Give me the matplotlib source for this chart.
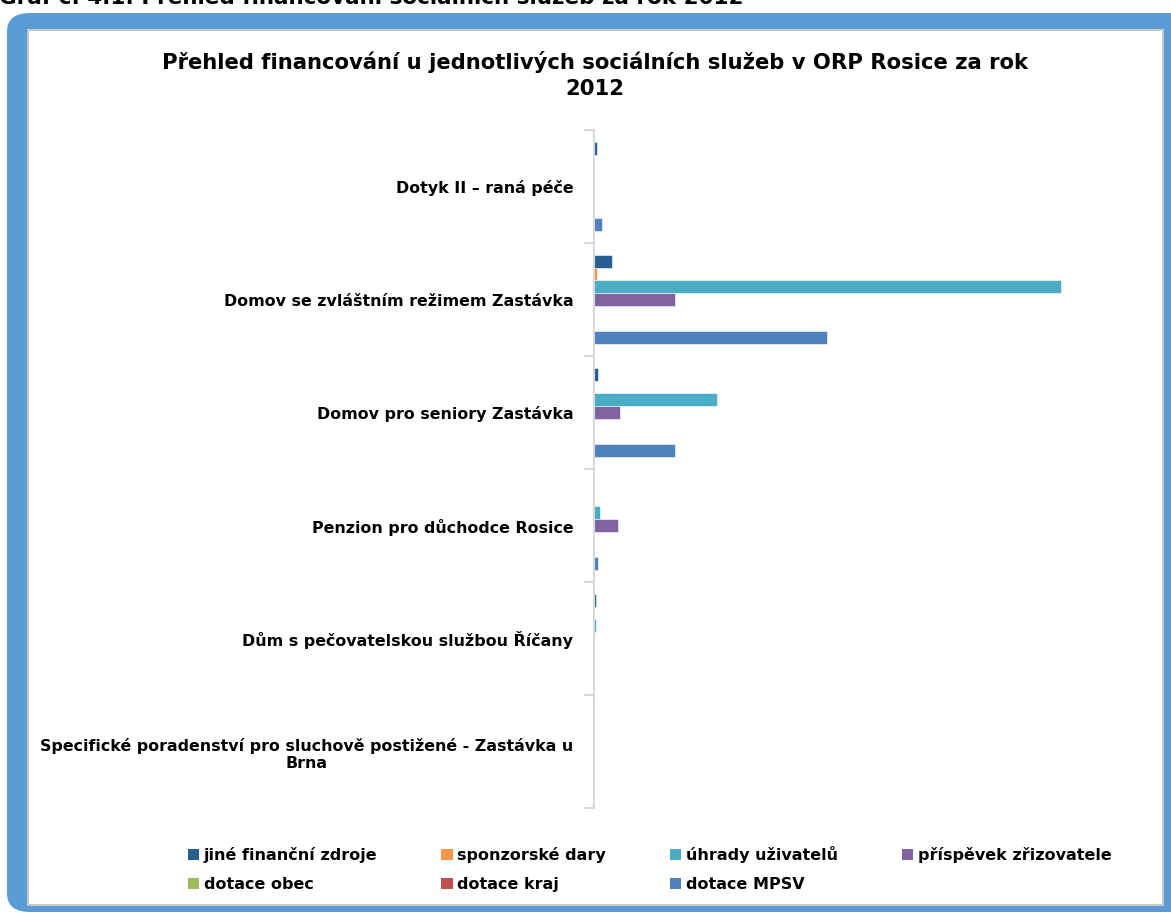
import matplotlib
matplotlib.use('Agg')
import matplotlib.pyplot as plt
from matplotlib.patches import FancyBboxPatch, Rectangle, Patch
import numpy as np

W, H = 1171, 918

categories = [
    'Dotyk II – raná péče',
    'Domov se zvláštním režimem Zastávka',
    'Domov pro seniory Zastávka',
    'Penzion pro důchodce Rosice',
    'Dům s pečovatelskou službou Říčany',
    'Specifické poradenství pro sluchově postižené - Zastávka u\nBrna',
]
series_names = ['jiné finanční zdroje', 'sponzorské dary', 'úhrady uživatelů',
                'příspěvek zřizovatele', 'dotace obec', 'dotace kraj', 'dotace MPSV']
colors = ['#255E91', '#F79646', '#4BACC6', '#8064A2', '#9BBB59', '#C0504D', '#4F81BD']

# values in thousands CZK
jine = [90, 540, 120, 0, 60, 0]
sponzor = [0, 90, 0, 0, 0, 0]
uhrady = [0, 13980, 3690, 170, 60, 0]
prispevek = [0, 2430, 780, 720, 0, 0]
obec = [0, 0, 0, 0, 0, 0]
kraj = [0, 0, 0, 0, 0, 0]
mpsv = [240, 6990, 2430, 120, 0, 0]
values = [jine, sponzor, uhrady, prispevek, obec, kraj, mpsv]


def fx(px):
    return px / W


def fy(py):
    return 1 - py / H


fig = plt.figure(figsize=(W / 100, H / 100), dpi=100)

# blue frame
outer = FancyBboxPatch((fx(7), fy(912)), fx(1200) - fx(7), fy(13) - fy(912),
                       boxstyle='round,pad=0,rounding_size=0.02', transform=fig.transFigure,
                       facecolor='#5B9BD5', edgecolor='none', zorder=-3)
fig.patches.append(outer)
inner = Rectangle((fx(28), fy(905)), fx(1163) - fx(28), fy(30) - fy(905),
                  transform=fig.transFigure, facecolor='white', edgecolor='#C8C8C8',
                  linewidth=1.5, zorder=-2)
fig.patches.append(inner)

# caption above the frame, cut off at the top edge like in the source
fig.text(fx(-1), fy(4), 'Graf č. 4.1: Přehled financování sociálních služeb za rok 2012',
         fontsize=15.5, fontweight='bold', va='baseline', ha='left')

ax = fig.add_axes([fx(594), fy(808), fx(1120) - fx(594), fy(130) - fy(808)])
ax.patch.set_visible(False)

y = np.arange(len(categories))
h = 0.1125
for i, (name, vals) in enumerate(zip(series_names, values)):
    ax.barh(y + (i - 3) * h, vals, height=h, color=colors[i], label=name,
            edgecolor='white', linewidth=0.4)

ax.set_xlim(0, 15750)
ax.set_ylim(len(categories) - 0.5, -0.5)
ax.set_yticks(np.arange(len(categories) + 1) - 0.5)
ax.set_yticklabels([])
ax.set_yticks(y, minor=True)
ax.set_yticklabels(categories, minor=True, fontsize=11.4, fontweight='bold',
                   multialignment='center')
ax.tick_params(axis='y', which='major', length=7, width=1.5, color='#D9D9D9')
ax.tick_params(axis='y', which='minor', length=0, pad=15)
ax.set_xticks([])
for s in ['top', 'right', 'bottom']:
    ax.spines[s].set_visible(False)
ax.spines['left'].set_color('#D9D9D9')
ax.spines['left'].set_linewidth(1.5)

fig.text(fx(595), fy(75), 'Přehled financování u jednotlivých sociálních služeb v ORP Rosice za rok\n2012',
         fontsize=15.2, fontweight='bold', ha='center', va='center', linespacing=1.4)

order = [0, 4, 1, 5, 2, 6, 3]
handles = [Patch(facecolor=colors[i], label=series_names[i]) for i in order]
leg = fig.legend(handles=handles, ncol=4, loc='center left', bbox_to_anchor=(fx(180), fy(869)),
                 frameon=False, prop={'size': 11.5, 'weight': 'bold'}, handlelength=0.7,
                 handleheight=0.7, handletextpad=0.3, columnspacing=4.0, labelspacing=0.9,
                 borderpad=0)

fig.savefig('out.png', dpi=100)
